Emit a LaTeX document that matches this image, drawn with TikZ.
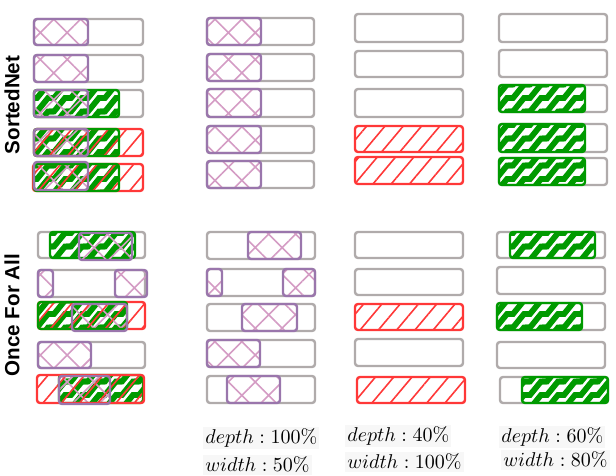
\documentclass[tikz,border=0pt]{standalone}
\usepackage{fontspec}
\setsansfont{Liberation Sans}
\usetikzlibrary{patterns.meta}

\definecolor{slotgray}{HTML}{B0ABAB}
\definecolor{wpurple}{HTML}{9A76AC}
\definecolor{hatchpink}{HTML}{D49CC4}
\definecolor{dgreen}{HTML}{009A00}
\definecolor{dred}{HTML}{FF3838}

% staircase ribbons for the depth pattern
\tikzdeclarepattern{
  name=zigzag,
  type=uncolored,
  bounding box={(-2pt,-2pt) and (11pt,9pt)},
  tile size={(8.5pt,6.75pt)},
  code={
    \draw[line width=2.9pt] (-1pt,0pt) -- (1.5pt,0pt) -- (7pt,6.75pt) -- (10pt,6.75pt);
  }
}

\begin{document}
\begin{tikzpicture}[x=0.5pt,y=-0.5pt,
  emptyslot/.style={draw=slotgray, line width=1.2pt, rounded corners=1.5pt},
  hatchfill/.style={pattern={Hatch[angle=45,distance=9.5pt,line width=0.8pt]}, pattern color=hatchpink},
  zigfill/.style={pattern=zigzag, pattern color=dgreen},
  linefill/.style={pattern={Lines[angle=50,distance=7pt,line width=0.8pt]}, pattern color=dred},
  hatchbox/.style={draw=wpurple, line width=1.2pt, rounded corners=1.5pt},
  zigbox/.style={draw=dgreen, line width=1.2pt, rounded corners=1.5pt},
  linebox/.style={draw=dred, line width=1.2pt, rounded corners=1.5pt},
  sidelabel/.style={font=\sffamily\bfseries\fontsize{10.3}{12}\selectfont, rotate=90},
  ratio/.style={anchor=west, inner sep=1pt, fill=black!3}]
  \useasboundingbox (0,0) rectangle (616,476);

  % ---- SortedNet, column 1: all sub-networks stacked
  \draw[emptyslot] (34,19) rectangle (143,45);
  \draw[hatchfill,hatchbox] (34,19) rectangle (88,45);
  \draw[emptyslot] (34,55) rectangle (143,82);
  \draw[hatchfill,hatchbox] (34,55) rectangle (88,82);
  \draw[emptyslot] (34,90) rectangle (143,117);
  \draw[zigfill,zigbox] (34,90) rectangle (119,117);
  \draw[hatchfill,hatchbox] (34,90) rectangle (88,117);
  \fill[zigfill,rounded corners=1.5pt] (34,129) rectangle (119,156);       % row 4
  \fill[hatchfill,rounded corners=1.5pt] (34,129) rectangle (88,156);
  \fill[linefill,rounded corners=1.5pt] (34,129) rectangle (143,156);
  \draw[linebox] (34,129) rectangle (143,156);
  \draw[zigbox] (34,129) rectangle (119,156);
  \draw[hatchbox] (34,129) rectangle (88,156);
  \fill[zigfill,rounded corners=1.5pt] (34,164) rectangle (119,191);       % row 5
  \fill[hatchfill,rounded corners=1.5pt] (34,162) rectangle (88,190);
  \fill[linefill,rounded corners=1.5pt] (33,164) rectangle (143,191);
  \draw[linebox] (33,164) rectangle (143,191);
  \draw[zigbox] (34,164) rectangle (119,191);
  \draw[hatchbox] (34,162) rectangle (88,190);

  % ---- SortedNet, column 2: width 50%
  \draw[emptyslot] (207,18) rectangle (314,45);
  \draw[hatchfill,hatchbox] (207,18) rectangle (261,45);
  \draw[emptyslot] (207,54) rectangle (314,81);
  \draw[hatchfill,hatchbox] (207,54) rectangle (261,81);
  \draw[emptyslot] (207,89) rectangle (314,117);
  \draw[hatchfill,hatchbox] (207,89) rectangle (261,117);
  \draw[emptyslot] (207,126) rectangle (314,153);
  \draw[hatchfill,hatchbox] (207,126) rectangle (261,153);
  \draw[emptyslot] (207,161) rectangle (314,188);
  \draw[hatchfill,hatchbox] (207,161) rectangle (261,188);

  % ---- SortedNet, column 3: depth 40%
  \draw[emptyslot] (355,14) rectangle (463,42);
  \draw[emptyslot] (355,51) rectangle (463,77);
  \draw[emptyslot] (355,89) rectangle (463,117);
  \draw[linefill,linebox] (355,126) rectangle (463,152);
  \draw[linefill,linebox] (355,157) rectangle (463,184);

  % ---- SortedNet, column 4: depth 60%, width 80%
  \draw[emptyslot] (499,14) rectangle (607,42);
  \draw[emptyslot] (499,50) rectangle (607,77);
  \draw[emptyslot] (499,85) rectangle (607,112);
  \draw[zigfill,zigbox] (499,85) rectangle (585,112);
  \draw[emptyslot] (499,124) rectangle (607,152);
  \draw[zigfill,zigbox] (499,124) rectangle (585,152);
  \draw[emptyslot] (499,158) rectangle (607,185);
  \draw[zigfill,zigbox] (499,158) rectangle (585,185);

  % ---- Once For All, column 1: all sub-networks stacked
  \draw[emptyslot] (38,232) rectangle (145,258);
  \draw[zigfill,zigbox] (50,232) rectangle (135,258);
  \draw[hatchfill,hatchbox] (79,233) rectangle (132,260);
  \draw[emptyslot] (38,270) rectangle (145,297);
  \draw[hatchfill,hatchbox] (38,270) rectangle (53,297);
  \draw[hatchfill,hatchbox] (115,270) rectangle (147,297);
  \fill[zigfill,rounded corners=1.5pt] (38,302) rectangle (127,329);       % row 3
  \fill[hatchfill,rounded corners=1.5pt] (72,304) rectangle (127,331);
  \fill[linefill,rounded corners=1.5pt] (38,302) rectangle (145,329);
  \draw[linebox] (38,302) rectangle (145,329);
  \draw[zigbox] (38,302) rectangle (127,329);
  \draw[hatchbox] (72,304) rectangle (127,331);
  \draw[emptyslot] (38,342) rectangle (145,368);
  \draw[hatchfill,hatchbox] (38,342) rectangle (91,368);
  \fill[zigfill,rounded corners=1.5pt] (59,375) rectangle (143,403);       % row 5
  \fill[hatchfill,rounded corners=1.5pt] (59,376) rectangle (110,404);
  \fill[linefill,rounded corners=1.5pt] (37,375) rectangle (144,403);
  \draw[zigbox] (59,375) rectangle (143,403);
  \draw[linebox] (37,375) rectangle (144,403);
  \draw[hatchbox] (59,376) rectangle (110,404);

  % ---- Once For All, column 2: width 50%
  \draw[emptyslot] (207,232) rectangle (315,259);
  \draw[hatchfill,hatchbox] (248,232) rectangle (301,259);
  \draw[emptyslot] (207,269) rectangle (315,296);
  \draw[hatchfill,hatchbox] (207,269) rectangle (222,296);
  \draw[hatchfill,hatchbox] (283,269) rectangle (315,296);
  \draw[emptyslot] (207,304) rectangle (315,331);
  \draw[hatchfill,hatchbox] (242,304) rectangle (297,331);
  \draw[emptyslot] (207,340) rectangle (315,367);
  \draw[hatchfill,hatchbox] (207,340) rectangle (260,367);
  \draw[emptyslot] (207,376) rectangle (315,403);
  \draw[hatchfill,hatchbox] (227,376) rectangle (280,403);

  % ---- Once For All, column 3: depth 40%
  \draw[emptyslot] (355,232) rectangle (463,258);
  \draw[emptyslot] (355,269) rectangle (463,295);
  \draw[linefill,linebox] (355,304) rectangle (463,330);
  \draw[emptyslot] (355,339) rectangle (463,366);
  \draw[linefill,linebox] (357,377) rectangle (465,403);

  % ---- Once For All, column 4: depth 60%, width 80%
  \draw[emptyslot] (497,232) rectangle (605,258);
  \draw[zigfill,zigbox] (510,232) rectangle (595,258);
  \draw[emptyslot] (497,267) rectangle (605,294);
  \draw[emptyslot] (497,303) rectangle (605,330);
  \draw[zigfill,zigbox] (497,303) rectangle (582,330);
  \draw[emptyslot] (497,342) rectangle (605,368);
  \draw[emptyslot] (500,377) rectangle (608,403);
  \draw[zigfill,zigbox] (522,377) rectangle (608,403);

  % row labels
  \node[sidelabel] (sorted) at (12,105) {SortedNet};
  \node[sidelabel] (ofa) at (12,315) {Once For All};

  % ratios under the columns
  \node[ratio] (depthb) at (203,438) {$depth:100\%$};
  \node[ratio] (widthb) at (203,465) {$width:50\%$};
  \node[ratio] (depthc) at (345,436) {$depth:40\%$};
  \node[ratio] (widthc) at (345,462) {$width:100\%$};
  \node[ratio] (depthd) at (499,437) {$depth:60\%$};
  \node[ratio] (widthd) at (501,460) {$width:80\%$};
\end{tikzpicture}
\end{document}
